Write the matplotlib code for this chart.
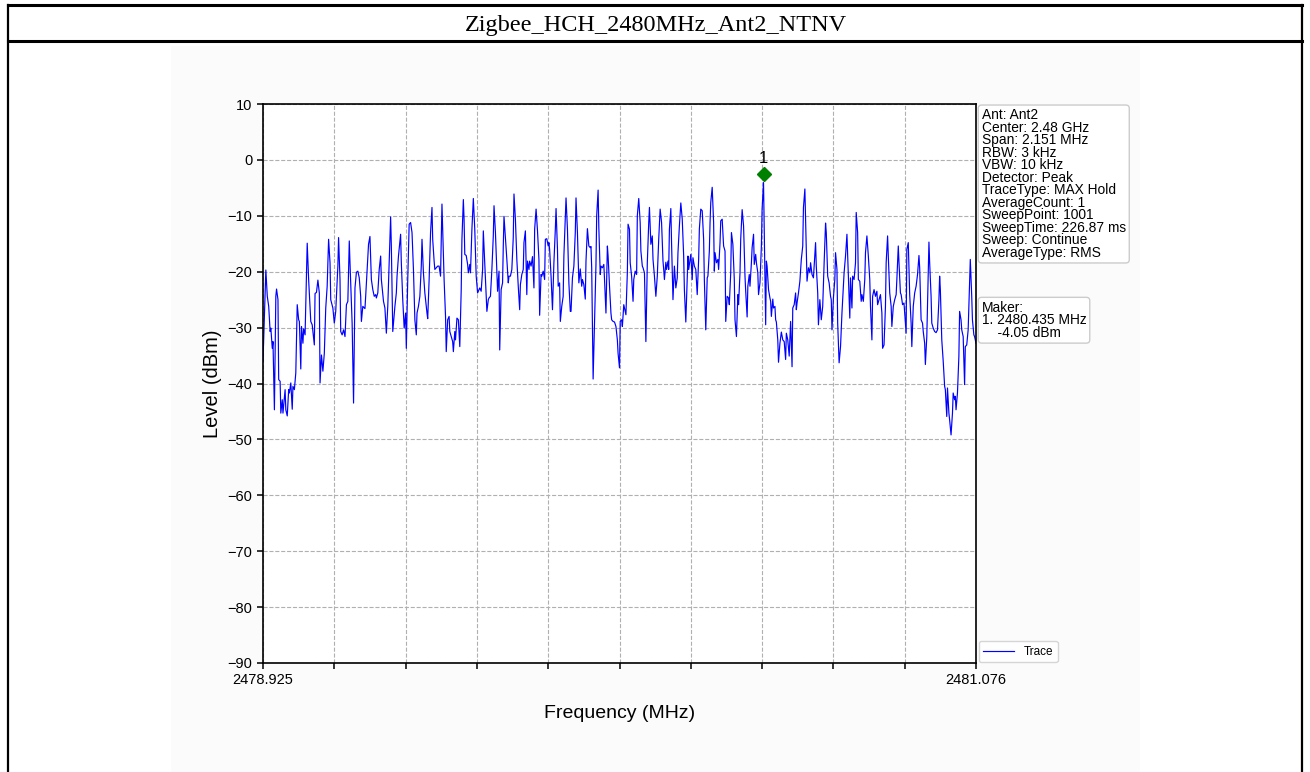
import numpy as np
import matplotlib
matplotlib.use("Agg")
import matplotlib.pyplot as plt
from matplotlib.lines import Line2D
from matplotlib.patches import Rectangle
from matplotlib.transforms import offset_copy

# sweep settings
center_mhz = 2480.0
span_mhz = 2.151
sweep_points = 1001
title = "Zigbee_HCH_2480MHz_Ant2_NTNV"
edge_labels = ["2478.925", "2481.076"]

info_lines = [
    "Ant: Ant2",
    "Center: 2.48 GHz",
    "Span: 2.151 MHz",
    "RBW: 3 kHz",
    "VBW: 10 kHz",
    "Detector: Peak",
    "TraceType: MAX Hold",
    "AverageCount: 1",
    "SweepPoint: 1001",
    "SweepTime: 226.87 ms",
    "Sweep: Continue",
    "AverageType: RMS",
]

# marker 1
mk_freq = 2480.435
mk_level = -4.05

# trace, max hold (sweep point index, level in dBm)
trace_idx = [
    0, 4, 6, 8, 10, 11, 13, 14, 16, 18, 19, 21, 22, 24, 25, 27, 28, 31, 32, 34,
    36, 37, 39, 41, 42, 44, 46, 48, 50, 51, 53, 54, 56, 57, 59, 61, 62, 64, 67, 69,
    72, 73, 75, 77, 79, 80, 82, 84, 86, 88, 90, 92, 94, 95, 98, 100, 102, 105, 106, 108,
    109, 111, 113, 115, 117, 119, 121, 122, 125, 127, 129, 131, 133, 135, 137, 138, 140, 143, 144, 146,
    148, 150, 152, 154, 156, 158, 159, 161, 163, 165, 166, 169, 171, 173, 175, 177, 179, 180, 182, 185,
    187, 188, 190, 193, 194, 196, 198, 200, 201, 203, 205, 207, 209, 211, 213, 215, 216, 218, 220, 222,
    223, 225, 227, 230, 231, 233, 235, 237, 238, 240, 241, 243, 245, 247, 249, 251, 254, 256, 257, 259,
    261, 262, 264, 266, 267, 269, 270, 272, 274, 276, 278, 279, 281, 282, 283, 285, 287, 288, 290, 291,
    293, 295, 297, 299, 301, 302, 304, 306, 308, 309, 311, 314, 316, 317, 319, 321, 323, 324, 326, 328,
    329, 331, 332, 334, 336, 337, 338, 340, 342, 344, 345, 347, 349, 351, 352, 354, 356, 358, 360, 361,
    363, 365, 366, 368, 370, 371, 373, 374, 376, 378, 380, 381, 383, 385, 387, 388, 390, 391, 393, 395,
    396, 398, 400, 401, 402, 404, 406, 408, 410, 411, 413, 414, 416, 417, 419, 421, 422, 424, 425, 427,
    429, 431, 432, 434, 436, 438, 439, 441, 443, 445, 447, 448, 450, 452, 453, 455, 457, 459, 460, 461,
    463, 465, 467, 468, 470, 471, 473, 474, 476, 478, 479, 481, 483, 484, 486, 488, 489, 491, 493, 495,
    497, 498, 500, 501, 503, 504, 506, 508, 509, 511, 512, 514, 515, 517, 519, 520, 522, 524, 525, 527,
    529, 530, 532, 533, 535, 537, 539, 541, 542, 544, 546, 547, 549, 551, 553, 555, 557, 559, 561, 562,
    563, 565, 566, 568, 569, 570, 572, 573, 575, 577, 579, 581, 582, 584, 586, 588, 590, 591, 593, 595,
    596, 597, 599, 600, 602, 603, 605, 607, 609, 611, 612, 614, 616, 618, 619, 621, 623, 624, 626, 627,
    628, 630, 632, 633, 634, 636, 638, 639, 641, 642, 644, 646, 648, 649, 651, 653, 654, 656, 657, 659,
    661, 662, 664, 666, 667, 669, 670, 672, 674, 676, 677, 679, 680, 682, 683, 685, 686, 688, 689, 691,
    692, 694, 695, 697, 699, 700, 702, 703, 705, 706, 707, 709, 711, 712, 713, 715, 716, 718, 719, 720,
    722, 723, 725, 727, 729, 731, 733, 734, 736, 738, 740, 742, 743, 745, 747, 748, 749, 751, 753, 755,
    757, 758, 760, 761, 763, 765, 767, 768, 770, 772, 774, 775, 776, 778, 779, 781, 783, 785, 787, 789,
    790, 792, 794, 796, 797, 798, 800, 802, 803, 805, 806, 808, 810, 812, 814, 815, 817, 819, 820, 821,
    823, 824, 826, 827, 829, 831, 832, 834, 835, 837, 839, 840, 842, 844, 845, 847, 849, 851, 852, 854,
    855, 857, 859, 861, 862, 864, 866, 868, 869, 871, 873, 874, 876, 877, 879, 881, 882, 884, 886, 888,
    889, 891, 892, 894, 895, 897, 899, 900, 902, 903, 905, 906, 907, 909, 910, 912, 914, 916, 918, 920,
    921, 923, 925, 926, 928, 929, 931, 933, 934, 935, 937, 938, 940, 942, 944, 946, 948, 949, 950, 952,
    954, 956, 957, 959, 960, 962, 963, 965, 967, 968, 970, 971, 972, 974, 976, 977, 979, 980, 982, 984,
    985, 987, 989, 991, 992, 994, 995, 997, 998, 1000,
]
trace_dbm = [
    -36.0, -19.7, -24.4, -26.2, -30.7, -30.1, -33.7, -32.5, -44.7, -24.4, -23.1, -25.0, -39.3, -39.6, -45.3, -42.9, -45.3, -41.1, -44.7, -45.8,
    -41.1, -41.7, -39.9, -44.6, -40.5, -41.1, -38.1, -25.9, -28.6, -28.9, -37.4, -29.8, -32.8, -30.2, -31.3, -20.2, -14.9, -21.4, -28.9, -29.5,
    -33.1, -23.9, -23.7, -21.5, -23.8, -39.9, -34.9, -37.8, -34.6, -26.5, -22.6, -14.2, -18.4, -25.0, -26.5, -29.2, -27.1, -19.0, -13.9, -21.4,
    -30.7, -31.3, -30.4, -31.6, -25.9, -25.3, -14.5, -18.4, -29.2, -43.5, -22.9, -20.1, -19.9, -21.1, -24.4, -28.9, -26.2, -26.6, -24.4, -19.6,
    -15.1, -13.7, -21.4, -23.2, -24.4, -24.1, -24.7, -23.8, -19.6, -17.2, -21.4, -25.3, -26.5, -31.0, -26.2, -18.4, -10.2, -15.4, -30.7, -26.2,
    -23.8, -20.8, -17.2, -13.3, -18.4, -25.0, -30.1, -27.4, -33.7, -21.4, -11.5, -11.2, -13.0, -19.6, -28.6, -31.3, -27.4, -26.2, -24.4, -19.0,
    -14.2, -20.2, -23.8, -27.4, -28.4, -21.4, -13.0, -8.5, -14.2, -18.1, -19.6, -19.3, -19.0, -19.0, -20.8, -7.9, -21.4, -28.0, -34.3, -28.6,
    -28.0, -30.7, -31.6, -32.5, -34.3, -30.7, -32.2, -28.3, -28.6, -33.4, -23.2, -14.2, -7.1, -10.6, -16.9, -17.1, -18.7, -20.2, -18.7, -20.2,
    -12.4, -6.9, -12.4, -20.8, -23.8, -23.5, -22.9, -23.5, -19.6, -12.7, -18.4, -27.1, -25.0, -24.7, -24.4, -19.6, -13.6, -8.2, -13.0, -19.9,
    -23.5, -19.9, -34.0, -23.2, -22.0, -15.4, -10.1, -13.9, -17.8, -22.0, -20.8, -20.8, -19.6, -13.9, -6.1, -10.6, -17.8, -22.6, -26.8, -22.3,
    -20.5, -19.6, -14.8, -12.7, -24.1, -18.1, -19.6, -18.1, -19.0, -17.3, -22.9, -12.4, -8.8, -12.7, -17.8, -27.8, -20.5, -20.8, -19.9, -21.4,
    -14.2, -14.1, -15.4, -14.8, -16.0, -20.8, -26.8, -18.4, -12.4, -8.7, -16.0, -22.6, -22.0, -28.9, -26.2, -24.4, -17.2, -10.6, -6.8, -12.4,
    -22.0, -27.1, -27.1, -21.1, -19.0, -13.0, -6.8, -13.0, -22.0, -19.5, -22.6, -21.4, -22.3, -24.9, -18.1, -12.3, -15.4, -15.7, -15.5, -19.3,
    -39.2, -28.6, -18.7, -10.0, -5.4, -12.1, -20.5, -19.0, -19.3, -18.7, -21.4, -27.4, -15.4, -17.2, -22.6, -27.4, -28.6, -28.9, -29.0, -29.8,
    -32.2, -34.6, -37.2, -28.9, -28.6, -29.8, -25.9, -27.1, -27.7, -20.2, -11.5, -12.4, -18.4, -20.8, -25.3, -21.4, -19.9, -20.5, -10.0, -6.9,
    -11.2, -16.3, -19.0, -19.3, -20.2, -32.5, -18.4, -11.2, -8.5, -15.1, -13.6, -17.8, -20.8, -24.4, -20.8, -14.2, -8.8, -11.2, -18.1, -19.6,
    -21.4, -18.3, -19.6, -18.1, -19.6, -12.4, -8.7, -14.8, -25.0, -19.0, -22.9, -21.1, -16.6, -11.8, -7.7, -10.6, -17.2, -23.2, -29.0, -21.4,
    -17.2, -19.6, -17.8, -16.9, -21.4, -17.5, -19.0, -19.6, -24.1, -17.8, -12.4, -8.8, -9.1, -14.2, -21.4, -30.4, -21.1, -20.8, -16.3, -11.2,
    -7.6, -4.9, -11.2, -19.9, -16.6, -18.4, -17.8, -19.6, -14.8, -10.9, -10.6, -15.4, -16.3, -28.9, -24.4, -24.7, -25.9, -20.2, -13.0, -15.1,
    -21.4, -28.6, -31.6, -24.1, -25.9, -20.2, -14.2, -8.9, -11.8, -20.8, -23.5, -28.1, -22.6, -20.5, -22.6, -18.4, -15.7, -13.3, -18.7, -16.9,
    -18.4, -20.2, -24.1, -22.0, -15.4, -8.8, -4.05, -12.4, -29.5, -18.1, -19.0, -23.2, -24.7, -25.3, -28.0, -24.9, -26.5, -26.2, -28.6, -29.0,
    -32.2, -36.2, -32.8, -30.8, -32.2, -32.5, -35.7, -31.0, -32.2, -35.1, -28.9, -37.0, -26.5, -25.9, -23.8, -26.8, -25.6, -23.8, -21.7, -17.8,
    -15.4, -8.5, -5.2, -10.6, -21.7, -19.3, -20.2, -18.4, -20.5, -21.1, -16.9, -14.8, -19.0, -23.8, -29.5, -25.0, -28.6, -26.2, -18.4, -11.3,
    -13.0, -20.8, -22.0, -24.4, -25.0, -30.4, -24.7, -21.4, -16.6, -19.6, -29.2, -36.3, -33.4, -27.4, -22.6, -20.2, -17.2, -13.3, -17.2, -21.4,
    -28.3, -21.1, -26.5, -20.8, -21.4, -18.4, -9.4, -13.0, -21.4, -21.7, -25.3, -24.1, -25.3, -21.4, -16.6, -13.6, -17.2, -21.4, -26.2, -32.2,
    -24.4, -23.2, -24.4, -23.5, -25.9, -25.0, -24.1, -27.4, -33.7, -33.1, -26.2, -18.4, -13.6, -17.2, -23.8, -26.2, -29.8, -26.2, -25.0, -24.1,
    -21.4, -15.4, -18.4, -23.8, -24.1, -25.9, -25.6, -27.4, -31.0, -16.0, -14.8, -19.6, -24.1, -29.2, -33.4, -26.2, -23.8, -22.6, -20.5, -17.1,
    -19.3, -28.6, -29.2, -30.7, -32.8, -36.6, -31.6, -20.2, -14.7, -18.4, -24.4, -29.2, -30.1, -30.7, -30.9, -30.4, -25.0, -20.8, -23.2, -32.2,
    -36.0, -40.5, -41.1, -45.9, -40.8, -45.3, -46.5, -49.2, -45.3, -41.7, -42.9, -42.3, -44.7, -41.7, -35.1, -27.1, -28.6, -30.4, -31.6, -40.2,
    -33.4, -33.1, -30.4, -22.0, -17.8, -24.4, -28.6, -31.3, -31.6, -32.8,
]

start = center_mhz - span_mhz / 2
stop = center_mhz + span_mhz / 2
freq = start + np.array(trace_idx) * span_mhz / (sweep_points - 1)
level = np.array(trace_dbm)

fig = plt.figure(figsize=(13.1, 7.72), dpi=100)
W, H = 1310, 772

def px(x, y):
    return x / W, 1 - y / H

# report cell frame
for (x0, y0), (x1, y1), lw in [((8, 5), (1302, 5), 2.2), ((8, 41), (1302, 41), 2.2),
                                ((8, 5), (8, 772), 1.6), ((1302, 5), (1302, 772), 1.6)]:
    a, b = px(x0, y0)
    c, d = px(x1, y1)
    fig.add_artist(Line2D([a, c], [b, d], color="black", lw=lw, transform=fig.transFigure))
fig.text(656 / W, 1 - 25 / H, title, ha="center", va="center",
         family="Liberation Serif", fontsize=17.5)

# embedded plot canvas
bx, by = px(171, 772)
fig.add_artist(Rectangle((bx, by), (1140 - 171) / W, (772 - 46) / H,
                         facecolor="#fbfbfb", edgecolor="none", transform=fig.transFigure, zorder=0))

plt.rcParams["font.family"] = ["Liberation Sans", "DejaVu Sans"]
ax = fig.add_axes([263 / W, 1 - 663 / H, (976 - 263) / W, (663 - 104) / H])
ax.set_facecolor("white")

ax.plot(freq, level, color="blue", lw=0.85, label="Trace")

# marker, drawn a little above the trace point
mk_tr = offset_copy(ax.transData, fig=fig, x=0, y=6.5, units="points")
ax.plot(mk_freq, mk_level, marker="D", markersize=7, color="green", transform=mk_tr, zorder=5)
ax.text(mk_freq, mk_level, "1", transform=offset_copy(ax.transData, fig=fig, x=0, y=12, units="points"),
        ha="center", va="bottom", fontsize=12)

ax.set_xlim(start, stop)
ax.set_ylim(-90, 10)
ax.set_yticks(np.arange(-90, 11, 10))
ax.set_xticks(np.linspace(start, stop, 11))
ax.set_xticklabels([edge_labels[0]] + [""] * 9 + [edge_labels[1]])
ax.tick_params(labelsize=10.5, width=1.1, length=4)
ax.grid(True, color="#b0b0b0", linestyle="--", lw=0.8)
for s in ax.spines.values():
    s.set_linewidth(1.2)

ax.set_xlabel("Frequency (MHz)", fontsize=14, labelpad=13)
ax.set_ylabel("Level (dBm)", fontsize=14.5, labelpad=4)

box = dict(boxstyle="round,pad=0.25", facecolor="white", edgecolor="#cccccc", lw=1)
ax.text(1.008, 0.992, "\n".join(info_lines), transform=ax.transAxes, ha="left", va="top",
        fontsize=9.9, linespacing=0.86, bbox=box)
ax.text(1.008, 0.648, f"Maker:\n1. {mk_freq:.3f} MHz\n    {mk_level:.2f} dBm", transform=ax.transAxes,
        ha="left", va="top", fontsize=9.9, linespacing=0.86, bbox=box)

ax.legend(loc="lower left", bbox_to_anchor=(1.003, 0.0), fontsize=8.5, frameon=True,
          borderaxespad=0.05, handlelength=2.6)

fig.savefig("out.png", dpi=100)
